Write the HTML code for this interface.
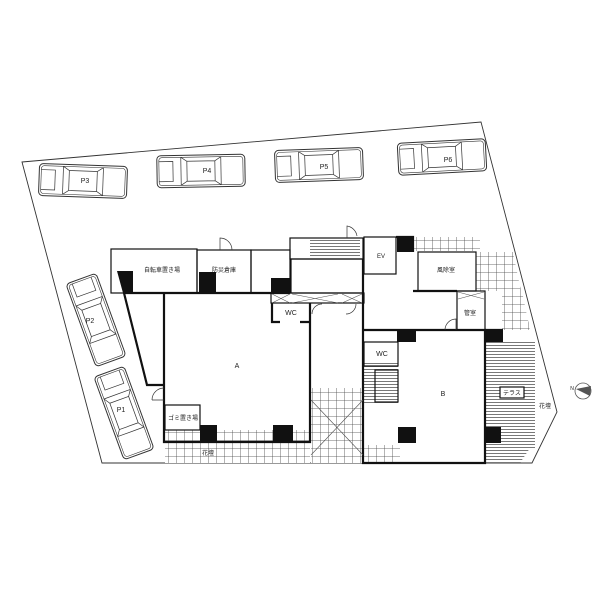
<!DOCTYPE html>
<html><head><meta charset="utf-8"><style>
html,body{margin:0;padding:0;background:#fff}
svg{display:block}
text{font-family:"Liberation Sans","Noto Sans CJK JP",sans-serif;fill:#222}
</style></head><body>
<svg width="600" height="600" viewBox="0 0 600 600" xmlns="http://www.w3.org/2000/svg">
<defs>
<pattern id="tile" width="8" height="8" patternUnits="userSpaceOnUse">
<rect width="8" height="8" fill="#fff"/><path d="M0 0H8M0 0V8" stroke="#444" stroke-width="0.8"/>
</pattern>
<pattern id="stripe" width="4" height="3" patternUnits="userSpaceOnUse">
<rect width="4" height="3" fill="#fff"/><path d="M0 0.5H4" stroke="#555" stroke-width="0.8"/>
</pattern>
<g id="car">
<rect x="-44" y="-16" width="88" height="32" rx="4" fill="#fff" stroke="#333" stroke-width="1"/>
<rect x="-42" y="-14" width="84" height="28" rx="3" fill="none" stroke="#333" stroke-width="0.6"/>
<path d="M-20 -14 L-14 -10 L14 -10 L20 -14 M-20 14 L-14 10 L14 10 L20 14 M-14 -10 V10 M14 -10 V10 M-20 -14 V14 M20 -14 V14 M-42 -10 H-28 V10 H-42" fill="none" stroke="#333" stroke-width="0.7"/>
</g>
</defs>
<!-- site outline -->
<path d="M22 162 L481 122 L557 412 L532 463 L102 463 Z" fill="none" stroke="#333" stroke-width="0.9"/>
<!-- cars -->
<g transform="translate(83,181) rotate(2)"><use href="#car"/></g>
<g transform="translate(201,171) rotate(-1)"><use href="#car"/></g>
<g transform="translate(319,165) rotate(-2)"><use href="#car"/></g>
<g transform="translate(442,157) rotate(-3)"><use href="#car"/></g>
<g transform="translate(96,320) rotate(70)"><use href="#car"/></g>
<g transform="translate(124,413) rotate(70)"><use href="#car"/></g>
<g font-size="7" text-anchor="middle">
<text x="85" y="183">P3</text><text x="207" y="173">P4</text><text x="324" y="169">P5</text><text x="448" y="162">P6</text>
<text x="90" y="323">P2</text><text x="121" y="412">P1</text>
</g>
<!-- tile areas -->
<rect x="165" y="430" width="145" height="33" fill="url(#tile)"/>
<rect x="311" y="388" width="52" height="75" fill="url(#tile)"/>
<rect x="364" y="445" width="36" height="18" fill="url(#tile)"/>
<rect x="413" y="237" width="67" height="14" fill="url(#tile)"/>
<path d="M476 252 L513 252 L521 291 L476 291Z" fill="url(#tile)"/>
<path d="M502 291 L522 291 L530 330 L502 330Z" fill="url(#tile)"/>
<path d="M485 342 L535 342 L535 448 L485 448Z" fill="url(#stripe)"/>
<path d="M485 448 L530 448 L520 463 L485 463Z" fill="url(#stripe)"/>
<rect x="364" y="363" width="34" height="40" fill="url(#stripe)"/>
<rect x="310" y="240" width="50" height="18" fill="url(#stripe)"/>
<!-- walls -->
<g fill="none" stroke="#111" stroke-width="1.2">
<rect x="111" y="249" width="86" height="44"/>
<rect x="197" y="250" width="54" height="43"/>
<rect x="251" y="250" width="39" height="43"/>
<rect x="290" y="238" width="73" height="21"/>
<rect x="291" y="259" width="72" height="34"/>
<rect x="271" y="293" width="93" height="10"/>
<rect x="364" y="237" width="32" height="37"/>
<rect x="418" y="252" width="58" height="39"/>
<rect x="457" y="291" width="28" height="39"/>
<rect x="165" y="405" width="35" height="25"/>
<rect x="364" y="342" width="34" height="24"/>
<rect x="375" y="370" width="23" height="32"/>
<rect x="500" y="387" width="24" height="11" fill="#fff"/>
</g>
<g fill="none" stroke="#111" stroke-width="2.2">
<path d="M125 293 H290"/>
<path d="M124 293 L147 385 H164"/>
<path d="M164 294 V442 H310 V303"/>
<path d="M272 303 V322 H280 M300 322 H310"/>
<path d="M363 259 V330 M396 237 H413 V252 M413 291 H457"/>
<path d="M363 330 H485 V463 H363 V330"/>
<path d="M485 330 H503"/>
</g>
<!-- hatched door boxes -->
<g stroke="#555" stroke-width="0.6">
<path d="M272 294 L290 303 M290 294 L272 303 M292 294 L338 303 M338 294 L292 303 M342 294 L362 303 M362 294 L342 303 M458 292 L484 299 M484 292 L458 299"/>
<path d="M311 400 L363 455 M363 400 L311 455"/>
</g>
<!-- columns -->
<g fill="#111">
<path d="M117 271 H133 V293 H123Z"/>
<rect x="199" y="272" width="17" height="21"/>
<rect x="271" y="278" width="19" height="15"/>
<rect x="200" y="425" width="17" height="17"/>
<rect x="273" y="425" width="20" height="17"/>
<rect x="397" y="237" width="16" height="15"/>
<rect x="397" y="330" width="19" height="12"/>
<rect x="484" y="330" width="19" height="12"/>
<rect x="398" y="427" width="18" height="16"/>
<rect x="485" y="427" width="16" height="16"/>
</g>
<!-- door arcs -->
<g fill="none" stroke="#333" stroke-width="0.7">
<path d="M220 250 V238 A12 12 0 0 1 232 250"/>
<path d="M347 238 V226 A12 12 0 0 1 357 236"/>
<path d="M152 400 A12 12 0 0 1 164 388 M152 400 H164"/>
<path d="M445 330 A11 11 0 0 1 456 319 V330"/>
<path d="M312 314 A10 10 0 0 1 322 304 M346 314 A10 10 0 0 0 356 304"/>
</g>
<!-- labels -->
<g font-size="6" text-anchor="middle">
<text x="162" y="272">自転車置き場</text>
<text x="224" y="272">防災倉庫</text>
<text x="381" y="258">EV</text>
<text x="446" y="272">風除室</text>
<text x="470" y="315">管室</text>
<text x="183" y="420">ゴミ置き場</text>
<text x="208" y="455">花壇</text>
<text x="512" y="395">テラス</text>
<text x="545" y="408">花壇</text>
<text x="572" y="390" font-size="5">N</text>
</g>
<g font-size="7" text-anchor="middle">
<text x="291" y="315">WC</text>
<text x="382" y="356">WC</text>
<text x="237" y="368">A</text>
<text x="443" y="396">B</text>
</g>
<circle cx="583" cy="391" r="8" fill="none" stroke="#555" stroke-width="0.8"/>
<path d="M576 389 L591 386 L590 396Z" fill="#555"/>
</svg>
</body></html>
